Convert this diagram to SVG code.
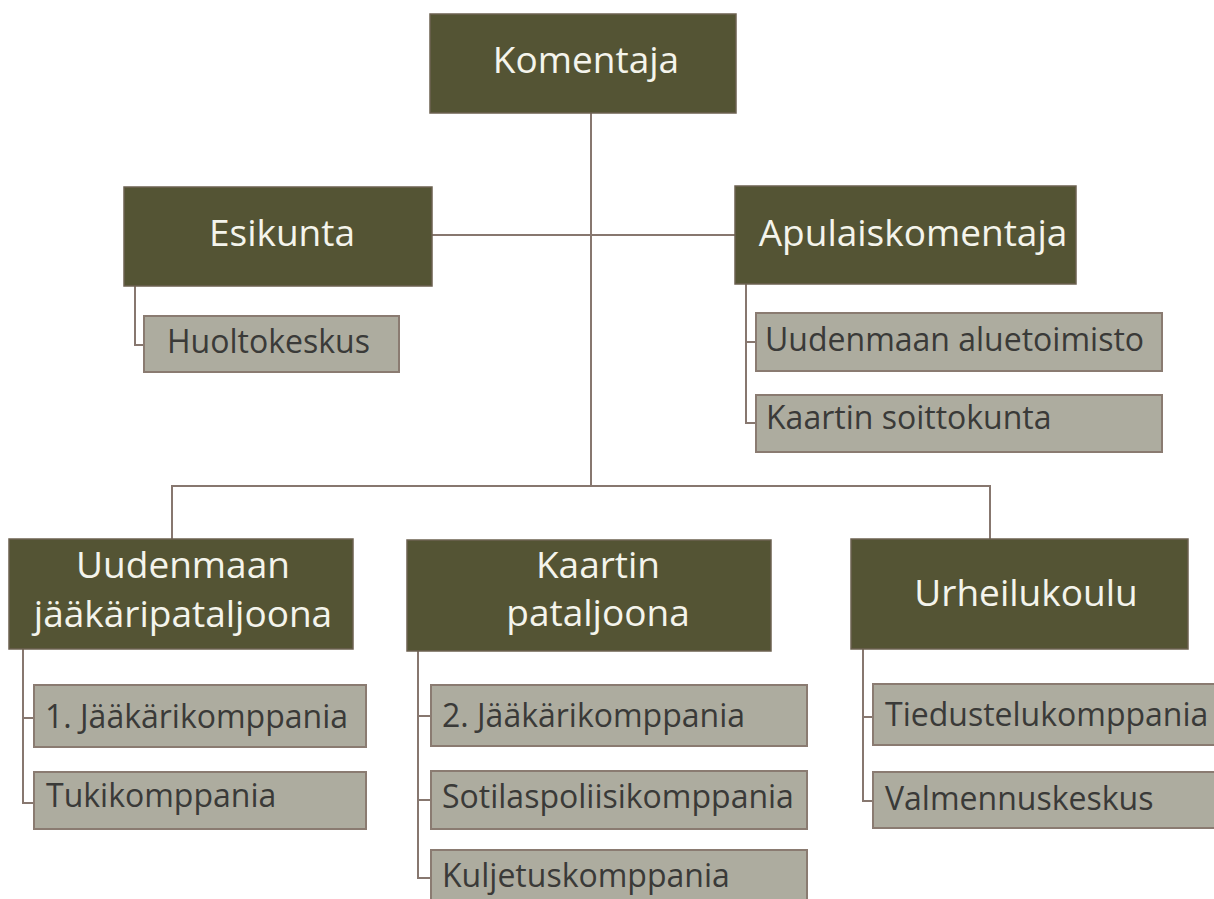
<svg xmlns="http://www.w3.org/2000/svg" width="1214" height="899" viewBox="0 0 1214 899">
<style>
.dk{fill:#545434;stroke:#6c6150;stroke-width:1.5}
.lt{fill:#adac9f;stroke:#8a7b71;stroke-width:2}
.wt{font-family:"Open Sans","Noto Sans",sans-serif;font-size:37px;fill:#f4f4ec;text-anchor:middle}
.gt{font-family:"Open Sans","Noto Sans",sans-serif;font-size:32px;fill:#3a3a38}
.ln{fill:none;stroke:#87776f;stroke-width:2}
</style>
<rect width="1214" height="899" fill="#ffffff"/>
<g id="connectors">
<path class="ln" d="M591 113V486"/>
<path class="ln" d="M432 235H735"/>
<path class="ln" d="M172 539V486H990V539"/>
<path class="ln" d="M135 286V345H144"/>
<path class="ln" d="M746 284V423H756M746 342H756"/>
<path class="ln" d="M23 649V803H34M23 718H34"/>
<path class="ln" d="M418 651V878H431M418 716H431M418 800H431"/>
<path class="ln" d="M863 649V801H873M863 717H873"/>
</g>
<g id="komentaja"><rect class="dk" x="430" y="14" width="306" height="99"/><text class="wt" x="586" y="73">Komentaja</text></g>
<g id="esikunta"><rect class="dk" x="124" y="187" width="308" height="99"/><text class="wt" x="282" y="246">Esikunta</text></g>
<g id="apulaiskomentaja"><rect class="dk" x="735" y="186" width="341" height="98"/><text class="wt" x="913" y="246">Apulaiskomentaja</text></g>
<g id="huoltokeskus"><rect class="lt" x="144" y="316" width="255" height="56"/><text class="gt" x="167" y="353">Huoltokeskus</text></g>
<g id="aluetoimisto"><rect class="lt" x="756" y="313" width="406" height="58"/><text class="gt" x="765" y="351">Uudenmaan aluetoimisto</text></g>
<g id="soittokunta"><rect class="lt" x="756" y="395" width="406" height="57"/><text class="gt" x="766" y="429">Kaartin soittokunta</text></g>
<g id="ujp"><rect class="dk" x="9" y="539" width="344" height="110"/><text class="wt" x="183" y="578">Uudenmaan</text><text class="wt" x="183" y="627">jääkäripataljoona</text></g>
<g id="kp"><rect class="dk" x="407" y="540" width="364" height="111"/><text class="wt" x="598" y="578">Kaartin</text><text class="wt" x="598" y="626">pataljoona</text></g>
<g id="urheilukoulu"><rect class="dk" x="851" y="539" width="337" height="110"/><text class="wt" x="1026" y="606">Urheilukoulu</text></g>
<g id="jk1"><rect class="lt" x="34" y="685" width="332" height="62"/><text class="gt" x="45" y="728">1. Jääkärikomppania</text></g>
<g id="tuki"><rect class="lt" x="34" y="772" width="332" height="57"/><text class="gt" x="46" y="807">Tukikomppania</text></g>
<g id="jk2"><rect class="lt" x="431" y="685" width="376" height="61"/><text class="gt" x="442" y="727">2. Jääkärikomppania</text></g>
<g id="sotpol"><rect class="lt" x="431" y="771" width="376" height="58"/><text class="gt" x="442" y="808">Sotilaspoliisikomppania</text></g>
<g id="kulj"><rect class="lt" x="431" y="850" width="376" height="60"/><text class="gt" x="442" y="887">Kuljetuskomppania</text></g>
<g id="tied"><rect class="lt" x="873" y="684" width="350" height="61"/><text class="gt" x="885" y="726">Tiedustelukomppania</text></g>
<g id="valm"><rect class="lt" x="873" y="772" width="350" height="56"/><text class="gt" x="885" y="810">Valmennuskeskus</text></g>
</svg>
